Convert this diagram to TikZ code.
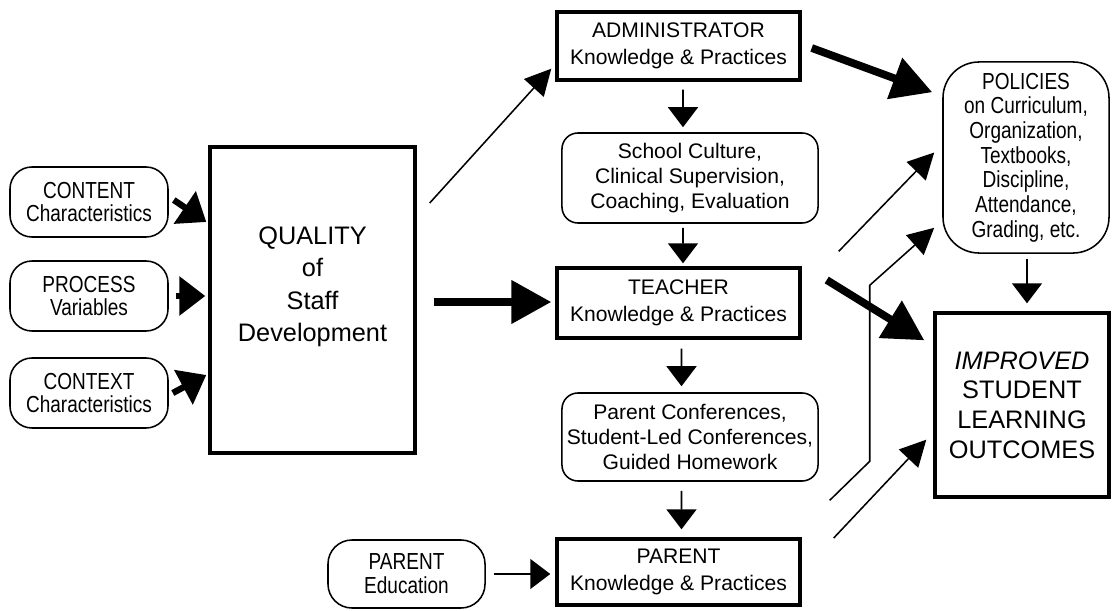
\documentclass[tikz,border=0pt]{standalone}
\usepackage{fontspec}
\setmainfont{Liberation Sans}
\newfontfamily\narrowsf[FakeStretch=0.82]{Liberation Sans}
\usetikzlibrary{positioning, calc, arrows.meta}

\begin{document}
\begin{tikzpicture}[x=0.025cm, y=-0.025cm,
		kbox/.style={draw, rectangle, line width=2.4pt, align=center, minimum width=6.075cm, font=\fontsize{15}{19}\selectfont},
		soft/.style={draw, rectangle, rounded corners=0.4cm, line width=1.1pt, align=center, minimum width=6.4cm, font=\fontsize{15}{17.5}\selectfont},
		input/.style={draw, rectangle, rounded corners=0.55cm, line width=1.1pt, align=center, minimum width=3.95cm, minimum height=1.75cm, font=\narrowsf\fontsize{16.5}{17}\selectfont},
		arrow/.style={-{Triangle[length=0.5cm, width=0.75cm]}, line width=1.1pt},
		link/.style={-{Triangle[length=0.65cm, width=0.66cm]}, line width=1.1pt},
		feed/.style={-{Triangle[length=0.65cm, width=0.95cm]}, line width=4.5pt},
		heavy/.style={-{Triangle[length=1cm, width=1.05cm]}, line width=5.5pt}]
	\useasboundingbox (0,0) rectangle (1112,611);

	% inputs
	\node[input] (content) at (89,202) {CONTENT\\Characteristics};
	\node[input] (process) at (89,296) {PROCESS\\Variables};
	\node[input] (context) at (89,393) {CONTEXT\\Characteristics};
	\node[draw, line width=2.4pt, minimum width=5.125cm, minimum height=7.65cm] (quality) at (312.5,300) {};
	\node[align=center, font=\fontsize{18}{23}\selectfont] at ([yshift=0.33cm]quality.center) {QUALITY\\of\\Staff\\Development};

	% middle column
	\node[kbox, minimum height=1.7cm] (admin) at (678.5,46) {ADMINISTRATOR\\Knowledge \& Practices};
	\node[soft, minimum height=2.25cm] (school) at (690,178) {School Culture,\\Clinical Supervision,\\Coaching, Evaluation};
	\node[kbox, minimum height=1.75cm] (teacher) at (678.5,303) {TEACHER\\Knowledge \& Practices};
	\node[soft, minimum height=2.2cm] (parconf) at (690,437) {Parent Conferences,\\Student-Led Conferences,\\Guided Homework};
	\node[kbox, minimum height=1.65cm] (parent) at (678.5,572) {PARENT\\Knowledge \& Practices};
	\node[input, minimum width=3.925cm, minimum height=1.7cm, rounded corners=0.6cm] (pared) at (406.5,574) {PARENT\\Education};

	% outcomes
	\node[draw, rectangle, rounded corners=0.9cm, line width=1.1pt, align=center, minimum width=4.15cm, minimum height=4.775cm, font=\narrowsf\fontsize{16.5}{17.5}\selectfont] (policies) at (1026,157.5) {POLICIES\\on Curriculum,\\Organization,\\Textbooks,\\Discipline,\\Attendance,\\Grading, etc.};
	\node[draw, rectangle, line width=2.4pt, align=center, minimum width=4.35cm, minimum height=4.6cm, font=\fontsize{18}{21}\selectfont] (improved) at (1022,405) {\textit{IMPROVED}\\STUDENT\\LEARNING\\OUTCOMES};

	\draw[feed] ($(content.east)+(5,-2)$) -- ($(quality.west)+(-2,-78)$);
	\draw[feed] ($(process.east)+(7,0)$) -- ($(quality.west |- process.east)+(-3,0)$);
	\draw[feed] ($(context.east)+(4,0)$) -- ($(quality.west)+(-2,75)$);

	\draw[link] ($(quality.east)+(13,-97)$) -- ($(admin.south west)+(-4,-13)$);
	\draw[heavy] ($(quality.east)+(17,2)$) -- ($(teacher.west)+(-4,-1)$);

	\draw[arrow] ($(admin.south)+(4.5,8)$) -- ($(school.north)+(-7,-5)$);
	\draw[arrow] ($(school.south)+(-7,4)$) -- ($(teacher.north)+(4.5,-3)$);
	\draw[arrow] ($(teacher.south)+(3,9)$) -- ($(parconf.north)+(-8.5,-6)$);
	\draw[arrow] ($(parconf.south)+(-8.5,9)$) -- ($(parent.north)+(3,-8)$);
	\draw[arrow, shorten <=0.2cm, shorten >=0.125cm] (pared.east) -- (parent.west |- pared.east);
	\draw[arrow] ($(policies.south)+(1,5)$) -- ($(improved.north)+(5,-8)$);

	\draw[heavy] ($(admin.east)+(10,2)$) -- ($(policies.north west)+(-10,31)$);
	\draw[heavy] ($(teacher.east)+(25,-23)$) -- ($(improved.north west)+(-9,29)$);
	\draw[link] ($(teacher.north east)+(37,-15)$) -- ($(policies.west)+(-8,-5)$);
	\draw[link] ($(parent.north east)+(28,-37)$) -- ($(parent.north east)+(68,-76)$) -- ($(parent.north east)+(68,-252)$) -- ($(policies.south west)+(-8,-26)$);
	\draw[link] ($(parent.east)+(32,-34)$) -- ($(improved.south west)+(-7,-59)$);
\end{tikzpicture}
\end{document}
